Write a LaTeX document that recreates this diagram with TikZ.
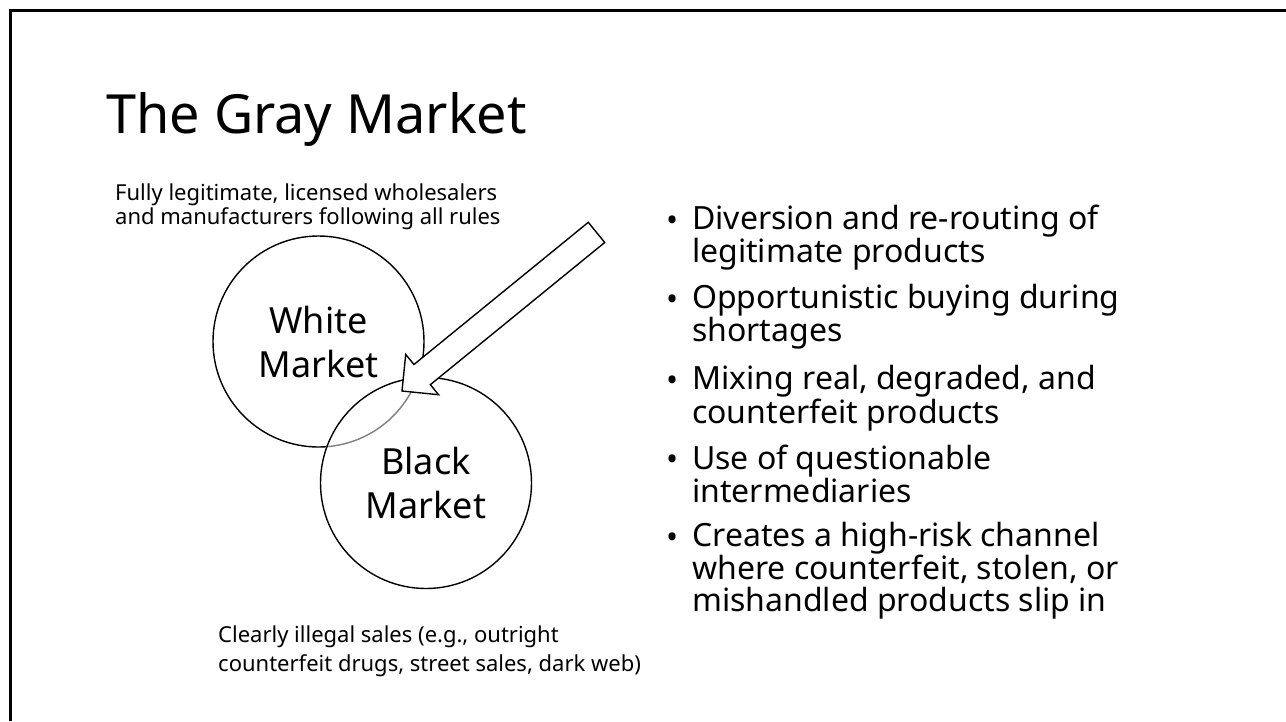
\documentclass[tikz,border=0pt]{standalone}
\usepackage{fontspec}
\setmainfont{Noto Sans}
\usetikzlibrary{calc}
\tikzset{
  market/.style={
    shape = circle,
    draw,
    line width = 1.4pt,
    minimum size = 211pt,
    inner sep = 0pt,
    align = center,
    font = \fontsize{36}{44}\selectfont
  },
  note/.style={
    anchor = base west,
    align = left,
    inner sep = 0pt,
    font = \fontsize{22}{23.5}\selectfont
  },
  point/.style={
    anchor = base west,
    align = left,
    inner sep = 0pt,
    font = \fontsize{32}{31.5}\selectfont
  },
  bigarrow/.style={
    draw,
    fill = white,
    line width = 1.4pt,
    line join = miter
  }
}
\begin{document}
\begin{tikzpicture}[x=1pt,y=-1pt]
  \useasboundingbox (0,0) rectangle (1286,721);
  \draw[line width=3pt] (10,721) -- (10,10) -- (1286,10);
  \node[anchor=base west,inner sep=0pt,font=\fontsize{54}{60}\selectfont] (title) at (106,133) {The Gray Market};
  \node[market] (white) at (318.5,341.5) {White\\Market};
  \node[market,fill=white,fill opacity=0.5,text opacity=1] (black) at (426,483) {Black\\Market};
  % block arrow
  \coordinate (tip) at (402,391);
  \coordinate (tail) at (596.5,232.4);
  \coordinate (hb) at ($(tip)!26pt!(tail)$);
  \draw[bigarrow] ($(tail)!13pt!90:(tip)$) -- ($(hb)!13pt!-90:(tail)$) -- ($(hb)!26pt!-90:(tail)$)
    -- (tip) -- ($(hb)!26pt!90:(tail)$) -- ($(hb)!13pt!90:(tail)$) -- ($(tail)!13pt!-90:(tip)$) -- cycle;
  \node[note] (legal) at (115,224) {Fully legitimate, licensed wholesalers\\and manufacturers following all rules};
  \node[note,font=\fontsize{22}{28.5}\selectfont] (illegal) at (218,671) {Clearly illegal sales (e.g., outright\\counterfeit drugs, street sales, dark web)};
  \foreach \y/\ylast/\txt [count=\i] in {231/262/{Diversion and re-routing of\\legitimate products},
      310/341/{Opportunistic buying during\\shortages},
      391/423/{Mixing real, degraded, and\\counterfeit products},
      470/502/{Use of questionable\\intermediaries},
      548/611/{Creates a high-risk channel\\where counterfeit, stolen, or\\mishandled products slip in}}{
    \node[point] (dot\i) at (666,\y) {\textbullet};
    \node[point] (item\i) at (692,\ylast) {\txt};
  }
\end{tikzpicture}
\end{document}
